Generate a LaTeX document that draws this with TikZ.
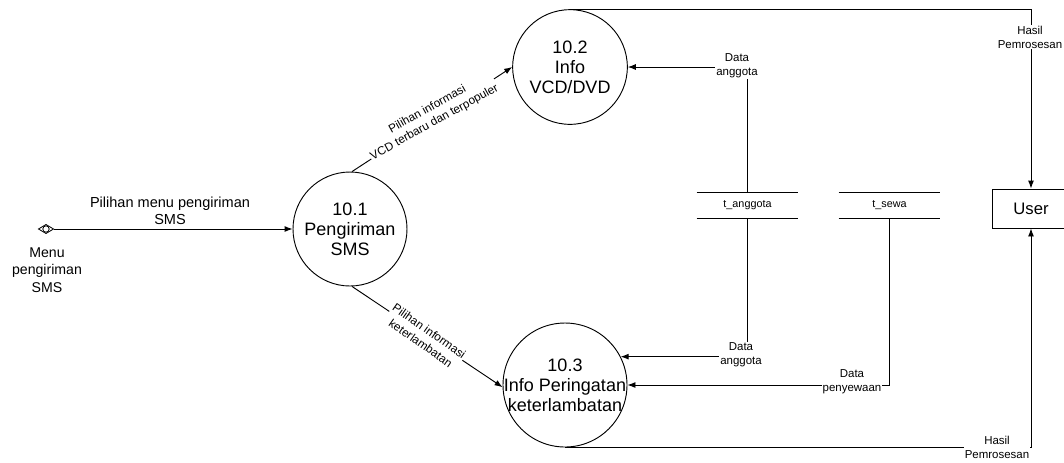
\documentclass[tikz,border=0pt]{standalone}
\usepackage{fontspec}
\setmainfont{Liberation Sans}
\usetikzlibrary{arrows.meta,shapes.geometric}
\begin{document}
\begin{tikzpicture}[x=0.75pt,y=-0.75pt,
  proc/.style={circle,draw,line width=0.7pt,inner sep=0pt},
  ptext/.style={align=center,font=\fontsize{13.5}{15}\selectfont},
  lbl/.style={fill=white,inner sep=0.6pt,align=center,font=\fontsize{8.6}{10.5}\selectfont},
  flow/.style={draw,line width=0.7pt,-{Latex[length=6pt,width=4.5pt]}},
  plain/.style={draw,line width=0.7pt},
  store/.style={minimum width=75.75pt,minimum height=18.75pt,inner sep=0pt,font=\fontsize{8.1}{10}\selectfont}]
\useasboundingbox (0,0) rectangle (1064,462);
\clip (0,0) rectangle (1064,462);

% processes
\node[proc,minimum size=85.5pt] (p1) at (350,229) {};
\node[ptext] (p1t) at (p1) {10.1\\Pengiriman\\SMS};
\node[proc,minimum size=86pt] (p2) at (570,67) {};
\node[ptext] (p2t) at (p2) {10.2\\Info\\VCD/DVD};
\node[proc,minimum size=93pt] (p3) at (565,385) {};
\node[ptext] (p3t) at (p3) {10.3\\Info Peringatan\\keterlambatan};

% external entity
\node[draw,line width=0.7pt,minimum width=58.5pt,minimum height=29.25pt,font=\fontsize{12.5}{14}\selectfont] (user) at (1031,208.5) {User};

% data stores
\node[store] (s1) at (747.5,205.5) {t\_anggota};
\draw[plain] (s1.north west) -- (s1.north east) (s1.south west) -- (s1.south east);
\node[store] (s2) at (889.5,205.5) {t\_sewa};
\draw[plain] (s2.north west) -- (s2.north east) (s2.south west) -- (s2.south east);

% interface symbol
\coordinate (menuc) at (46,229);
\coordinate (menu) at (53.5,229);
\draw[line width=0.6pt] (38.5,229) -- (46,224.5) -- (menu) -- (46,233.5) -- cycle;
\draw[line width=0.6pt] (menuc) circle (2.4pt);
\node[align=center,font=\fontsize{10.6}{13}\selectfont] (menulbl) at (47,270) {Menu\\pengiriman\\SMS};

% flows
\draw[flow] (menu) -- (p1.west);
\node[align=center,font=\fontsize{10.9}{12.75}\selectfont] (l1) at (170,211) {Pilihan menu pengiriman\\SMS};

\draw[flow] (p1.88) -- (p2.west);
\node[lbl,rotate=29,font=\fontsize{8.8}{11}\selectfont] (l2) at (431,116) {Pilihan informasi\\VCD terbaru dan terpopuler};

\draw[flow] (p1.272) -- (p3.182);
\node[lbl,rotate=-35,font=\fontsize{8.8}{11}\selectfont] (l3) at (425,337) {Pilihan informasi\\keterlambatan};

\draw[flow] (s1.north) |- (p2.east);
\node[lbl] (l4) at (737,66) {Data\\anggota};

\draw[flow] (s1.south) |- (p3.27);
\node[lbl] (l5) at (741,355) {Data\\anggota};

\draw[flow] (s2.south) |- (p3.east);
\node[lbl] (l6) at (852,382) {Data\\penyewaan};

\draw[flow] (p2.north) -| (user.north);
\node[lbl] (l7) at (1030,37) {Hasil\\Pemrosesan};

\draw[flow] (p3.south) -| (user.south);
\node[lbl] (l8) at (997,447) {Hasil\\Pemrosesan};
\end{tikzpicture}
\end{document}
